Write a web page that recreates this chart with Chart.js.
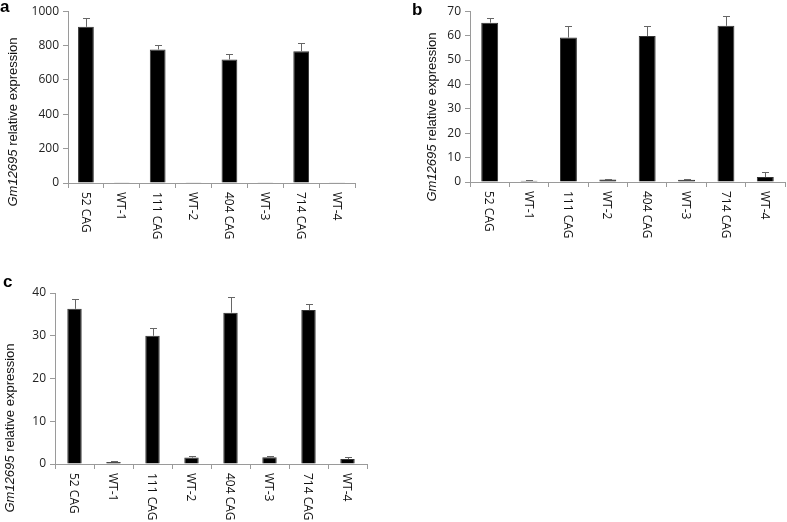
<!DOCTYPE html>
<html>
<head>
<meta charset="utf-8">
<script src="https://cdn.jsdelivr.net/npm/chart.js@4.4.1/dist/chart.umd.min.js"></script>
<style>
  body { margin: 0; background: #fff; }
  #wrap { position: relative; width: 787px; height: 522px; overflow: hidden; }
  .panel { position: absolute; }
  .letter { position: absolute; font: bold 17px "Liberation Sans", Arial, sans-serif; color: #000; }
</style>
</head>
<body>
<div id="wrap">
  <div class="panel" style="left:0;top:0;width:390px;height:260px"><canvas id="chartA"></canvas></div>
  <div class="panel" style="left:390px;top:0;width:397px;height:260px"><canvas id="chartB"></canvas></div>
  <div class="panel" style="left:0;top:260px;width:390px;height:262px"><canvas id="chartC"></canvas></div>
  <div class="letter" style="left:0;top:-3px">a</div>
  <div class="letter" style="left:412px;top:0">b</div>
  <div class="letter" style="left:3px;top:272px">c</div>
</div>
<script>
// kategori sampel (sama untuk semua panel)
const sampel = ["52 CAG", "WT-1", "111 CAG", "WT-2", "404 CAG", "WT-3", "714 CAG", "WT-4"];

// panel a
const nilaiA = [909, 1, 777, 1, 719, 1, 767, 2];
const errA = [49, 0, 25, 0, 31, 0, 45, 0];
const ticksA = [0, 200, 400, 600, 800, 1000];

// panel b
const nilaiB = [65.3, 0.5, 59.2, 1.0, 59.8, 0.9, 64.0, 2.0];
const errB = [1.8, 0.2, 4.8, 0.2, 4.2, 0.2, 4.2, 2.0];
const ticksB = [0, 10, 20, 30, 40, 50, 60, 70];

// panel c
const nilaiC = [36.3, 0.45, 30.0, 1.5, 35.4, 1.55, 36.0, 1.15];
const errC = [2.3, 0.15, 1.9, 0.3, 3.7, 0.35, 1.5, 0.5];
const ticksC = [0, 10, 20, 30, 40];

const FONT = '"Open Sans", "DejaVu Sans", sans-serif';
const FONT_JUDUL = '"Liberation Sans", Arial, sans-serif';
const abu = "#9a9a9a";

// plugin: error bar (atas saja), label x diputar, judul sumbu y
const pluginPanel = {
  id: "panel",
  afterDatasetsDraw(chart) {
    const c = chart.options.plugins.panel;
    const ctx = chart.ctx;
    const y = chart.scales.y;
    const meta = chart.getDatasetMeta(0);
    ctx.save();
    ctx.strokeStyle = "#666";
    ctx.lineWidth = 1;
    c.err.forEach((e, i) => {
      if (!e) return;
      const v = chart.data.datasets[0].data[i];
      const px = Math.round(meta.data[i].x) + 0.5;
      const y0 = y.getPixelForValue(v);
      const y1 = Math.round(y.getPixelForValue(v + e)) + 0.5;
      ctx.beginPath();
      ctx.moveTo(px, y0);
      ctx.lineTo(px, y1);
      ctx.moveTo(px - 3.5, y1);
      ctx.lineTo(px + 3.5, y1);
      ctx.stroke();
    });
    ctx.restore();
  },
  afterDraw(chart) {
    const c = chart.options.plugins.panel;
    const ctx = chart.ctx;
    const x = chart.scales.x, y = chart.scales.y;
    ctx.save();
    ctx.fillStyle = "#111";
    ctx.font = "12px " + FONT;
    ctx.textAlign = "left";
    ctx.textBaseline = "middle";
    chart.data.labels.forEach((lab, i) => {
      ctx.save();
      ctx.translate(x.getPixelForValue(i) - 1, y.bottom + 9);
      ctx.rotate(Math.PI / 2);
      ctx.fillText(lab, 0, 0);
      ctx.restore();
    });
    // judul sumbu y, Gm12695 miring
    const fIt = "italic 13px " + FONT_JUDUL, fNo = "13px " + FONT_JUDUL;
    ctx.font = fIt;
    const w1 = ctx.measureText("Gm12695").width;
    ctx.font = fNo;
    const w2 = ctx.measureText(" relative expression").width;
    ctx.translate(c.judulX, c.judulY);
    ctx.rotate(-Math.PI / 2);
    ctx.font = fIt;
    ctx.fillText("Gm12695", -(w1 + w2) / 2, 0);
    ctx.font = fNo;
    ctx.fillText(" relative expression", -(w1 + w2) / 2 + w1, 0);
    ctx.restore();
  }
};

function buatGrafik(id, nilai, err, ticks, set) {
  return new Chart(document.getElementById(id), {
    type: "bar",
    data: {
      labels: sampel,
      datasets: [{
        data: nilai,
        backgroundColor: "#000",
        borderColor: "#333",
        borderWidth: 1,
        barPercentage: set.bar,
        categoryPercentage: 1
      }]
    },
    options: {
      responsive: false,
      animation: false,
      devicePixelRatio: 1,
      layout: { padding: { left: 0, right: set.kanan, top: set.atas, bottom: 0 } },
      plugins: {
        legend: { display: false },
        tooltip: { enabled: false },
        panel: { err, judulX: set.judulX, judulY: set.judulY }
      },
      scales: {
        x: {
          grid: { offset: true, drawOnChartArea: false, tickLength: 5, color: abu },
          border: { color: abu },
          ticks: { display: false },
          afterFit: s => { s.height = set.tinggiX; }
        },
        y: {
          min: 0,
          max: ticks[ticks.length - 1],
          afterBuildTicks: s => { s.ticks = ticks.map(v => ({ value: v })); },
          grid: { drawOnChartArea: false, tickLength: 5, color: abu },
          border: { color: abu },
          ticks: { color: "#222", padding: 4, font: { family: FONT, size: 12 }, callback: v => String(v) },
          afterFit: s => { s.width = set.lebarY; }
        }
      }
    },
    plugins: [pluginPanel]
  });
}

function siapkan(id, w, h) {
  const cv = document.getElementById(id);
  cv.width = w; cv.height = h;
  cv.style.width = w + "px"; cv.style.height = h + "px";
}
siapkan("chartA", 390, 260);
siapkan("chartB", 397, 260);
siapkan("chartC", 390, 262);

buatGrafik("chartA", nilaiA, errA, ticksA, { lebarY: 68, kanan: 35, atas: 11, tinggiX: 77, bar: 0.44, judulX: 13, judulY: 122 });
buatGrafik("chartB", nilaiB, errB, ticksB, { lebarY: 80, kanan: 2, atas: 11, tinggiX: 78, bar: 0.43, judulX: 42, judulY: 117 });
buatGrafik("chartC", nilaiC, errC, ticksC, { lebarY: 55, kanan: 23, atas: 33, tinggiX: 58, bar: 0.37, judulX: 10, judulY: 168 });
</script>
</body>
</html>
